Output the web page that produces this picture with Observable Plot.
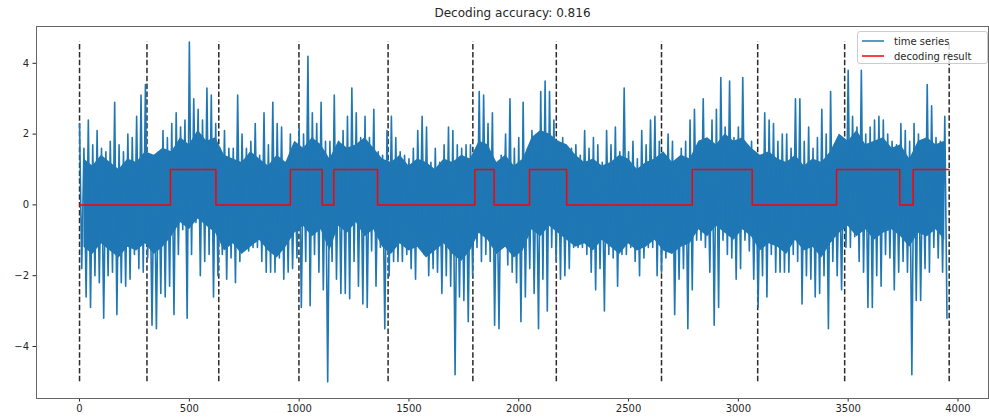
<!DOCTYPE html>
<html>
<head>
<meta charset="utf-8">
<script src="https://cdn.jsdelivr.net/npm/d3@7"></script>
<script src="https://cdn.jsdelivr.net/npm/@observablehq/plot@0.6"></script>
<style>
  body { margin: 0; background: #fff; }
  #wrap { position: relative; width: 989px; height: 420px; font-family: "DejaVu Sans", sans-serif; }
  #legend { position: absolute; left: 857px; top: 31px; width: 129px; height: 31px;
            border: 1px solid #cccccc; border-radius: 3px; background: rgba(255,255,255,0.8);
            font-size: 10px; color: #262626; z-index: 2; }
  .row { position: absolute; left: 3px; height: 14px; display: flex; align-items: center; white-space: nowrap; }
  .row svg { margin-right: 9px; }
</style>
</head>
<body>
<div id="wrap"></div>
<script>
// ---- data ----
const titleText = "Decoding accuracy: 0.816";
const seriesLabels = ["time series", "decoding result"];
const sampleStep = 10; // one value every 10 samples: alternating local high / local low

// local highs per 20-sample block
const highs = [
  2.3,1.6,2.4,1.7,2.1,1.6,1.5,1.8,2.9,1.7, 1.5,2.0,1.9,2.5,3.1,3.4,1.2,1.4,1.5,2.1,
  1.9,2.3,2.6,2.2,2.4,4.6,3.0,2.7,2.4,3.3, 3.1,2.3,1.6,
  2.1,1.6,1.6,3.1,2.0,1.6,1.8,2.3,1.4,2.6, 1.7,2.9,2.3,2.2,1.2,2.0,1.3,2.2,2.0,4.2,
  2.6,2.3,2.9,1.8,1.8,3.1,1.8,2.1,2.5,3.3, 2.6,1.9,2.5,
  1.9,2.7,1.5,1.4,2.1,2.5,1.9,1.5,1.4,1.3, 1.6,2.1,2.5,2.2,1.2,1.6,1.2,1.7,2.2,2.1,
  1.7,1.6,1.7,1.7,1.4,3.2,3.1,2.3,2.6,1.1, 1.4,2.0,3.0,
  1.6,1.9,2.9,1.6,2.1,1.5,3.2,3.5,3.2,2.4, 1.8,1.9,1.4,1.6,1.7,1.4,2.1,1.6,1.9,1.7,
  1.2,2.1,1.7,2.2,1.5,3.3,1.5,1.8,1.3,2.1, 1.7,2.4,2.5,
  1.8,1.2,2.0,1.8,1.2,1.6,1.8,2.4,2.7,1.6, 3.0,1.7,2.4,2.7,3.6,2.2,3.5,1.9,2.2,3.6,
  1.5,1.8,1.2,1.2,2.6,2.4,2.3,1.8,2.0,2.0, 1.6,3.0,3.0,
  1.8,2.2,1.6,1.9,2.7,2.0,3.2,1.7,1.4,1.6, 3.8,2.5,2.2,3.8,2.0,2.2,2.4,2.5,2.4,2.0,
  1.8,1.7,2.3,2.1,1.8,2.3,2.0,1.6,3.4,2.8, 1.9,1.8,2.5
];
// local lows per 20-sample block
const lows = [
  -1.8,-2.6,-2.9,-2.0,-2.2,-3.2,-2.0,-1.9,-3.1,-2.2, -2.3,-2.1,-1.4,-1.8,-1.9,-1.5,-3.4,-3.5,-2.5,-2.6,
  -2.3,-3.1,-1.4,-0.7,-3.2,-1.4,-0.5,-2.0,-1.6,-1.4, -2.6,-2.0,-1.4,
  -2.1,-1.5,-2.2,-1.6,-1.2,-1.3,-1.2,-1.2,-1.6,-1.9, -1.9,-1.9,-1.5,-2.1,-1.9,-1.8,-1.5,-2.9,-1.6,-2.85,
  -1.4,-1.9,-2.4,-5.0,-1.6,-2.1,-2.5,-2.5,-2.65,-1.6, -2.3,-2.8,-2.9,
  -1.3,-2.3,-1.2,-3.5,-2.0,-1.6,-1.6,-1.6,-1.4,-1.8, -2.1,-1.2,-1.4,-2.0,-1.8,-1.9,-2.5,-2.0,-2.3,-4.8,
  -2.6,-2.7,-3.3,-2.0,-1.2,-1.6,-1.4,-1.6,-3.4,-3.5, -1.0,-1.7,-1.9,
  -2.2,-3.3,-2.6,-1.8,-2.5,-3.5,-2.1,-3.0,-1.2,-1.6, -2.1,-2.0,-1.8,-1.2,-1.2,-1.2,-1.4,-1.9,-2.4,-1.8,
  -3.0,-1.4,-1.5,-2.3,-1.4,-1.4,-1.2,-1.6,-2.0,-1.5, -1.2,-1.2,-2.0,
  -1.9,-1.5,-1.2,-3.1,-2.1,-1.8,-3.5,-2.4,-1.0,-1.0, -1.2,-1.9,-3.4,-2.9,-1.0,-1.4,-1.5,-2.1,-1.8,-1.0,
  -1.3,-2.1,-2.9,-2.0,-2.6,-1.4,-1.9,-1.9,-1.9,-1.9, -1.4,-1.6,-2.8,
  -2.0,-2.1,-2.6,-2.5,-2.0,-3.5,-1.6,-2.0,-2.4,-1.2, -1.2,-0.9,-1.6,-1.9,-2.9,-2.9,-2.0,-2.3,-1.4,-1.5,
  -2.4,-1.9,-1.6,-1.9,-4.8,-2.7,-2.7,-1.8,-1.9,-1.2, -1.5,-1.9,-3.2
];

// edges of the solid inner part of the band, per 40-sample block
const coreBlock = 40;
const innerHigh = [
  1.3,1.1,1.4,1.2,1.0,1.3,1.2,1.5,1.4,1.6, 1.5,
  1.9,1.7,2.1,1.8,1.9,
  1.4,1.3,1.2,1.5,1.3,1.1,1.4,1.2,
  1.8,1.6,1.9,1.7,
  1.3,
  1.8,1.6,1.7,1.9,1.6,
  1.3,1.2,1.4,1.1,1.3,1.2,1.0,1.3,1.2,1.4,1.3,
  1.8,1.7,
  1.2,1.4,1.1,1.3,
  1.9,2.1,2.0,1.8,1.7,
  1.4,1.2,1.3,1.1,1.2,1.4,1.3,1.0,1.2,1.3,1.5,1.2,1.4,1.3,
  1.8,1.9,1.7,2.0,1.8,1.9,1.6,
  1.4,1.5,1.3,1.2,1.4,1.1,1.3,1.2,1.5,
  2.0,1.8,2.1,1.7,1.8,1.9,1.6,1.7,
  1.3,
  1.8,1.9,1.7,1.8
];
const innerLow = [
  -1.2,-1.4,-1.1,-1.3,-1.5,-1.2,-1.3,-1.1,-1.4,-1.2, -0.9,
  -0.5,-0.7,-0.4,-0.6,-0.8,
  -1.3,-1.1,-1.4,-1.2,-1.0,-1.3,-1.5,-1.2,
  -0.8,-0.6,-0.9,-0.7,
  -1.3,
  -0.6,-0.8,-0.5,-0.9,-0.7,
  -1.2,-1.4,-1.1,-1.3,-1.2,-1.5,-1.3,-1.1,-1.4,-1.6,-1.3,
  -0.8,-1.0,
  -1.4,-1.2,-1.5,-1.3,
  -0.7,-0.9,-0.6,-0.8,-1.0,
  -1.2,-1.1,-1.3,-1.0,-1.2,-1.4,-1.1,-1.3,-1.2,-1.0,-1.3,-1.4,-1.2,-1.1,
  -0.7,-0.9,-0.6,-0.8,-1.0,-0.7,-0.9,
  -1.3,-1.1,-1.2,-1.4,-1.0,-1.3,-1.2,-1.5,-1.1,
  -0.8,-0.6,-0.9,-0.7,-1.0,-0.8,-0.7,-0.9,
  -1.2,
  -0.8,-0.9,-0.7,-1.0
];

// decoded state: value holds from this sample until the next one
const stepStarts = [0, 414, 621, 960, 1105, 1158, 1357, 1800, 1888, 2049, 2218, 2790, 3063, 3447, 3735, 3796, 3959];
const stepStates = [0, 1, 0, 1, 0, 1, 0, 1, 0, 1, 0, 1, 0, 1, 0, 1, 1];

// true change points (dashed lines)
const changePoints = [0, 307, 634, 999, 1405, 1791, 2171, 2650, 3088, 3484, 3960];
const dashLow = -5.0, dashHigh = 4.6;

const xTicks = [0, 500, 1000, 1500, 2000, 2500, 3000, 3500, 4000];
const yTicks = [-4, -2, 0, 2, 4];

// ---- build tables ----
const series = [];
highs.forEach((h, i) => {
  series.push({x: (2 * i) * sampleStep, y: h});
  series.push({x: (2 * i + 1) * sampleStep, y: lows[i]});
});
const steps = stepStarts.map((x, i) => ({x, y: stepStates[i]}));
const core = innerHigh.map((h, j) => ({x: j * coreBlock + coreBlock / 2, lo: innerLow[j], hi: h}));

const chart = Plot.plot({
  width: 989,
  height: 420,
  marginLeft: 36,
  marginRight: 1,
  marginTop: 26,
  marginBottom: 22,
  style: {fontFamily: "DejaVu Sans, sans-serif", fontSize: "10px", color: "#262626", background: "#fff", overflow: "visible"},
  x: {domain: [-196, 4139], ticks: xTicks, tickSize: 3.5, tickPadding: 3, tickFormat: "d", label: null},
  y: {domain: [-5.47, 5.04], ticks: yTicks, tickSize: 3.5, tickPadding: 4, label: null},
  marks: [
    Plot.ruleX(changePoints, {x: d => d, y1: () => dashLow, y2: () => dashHigh, stroke: "#2b2b2b", strokeWidth: 1.5, strokeDasharray: "5.5,2.4"}),
    Plot.areaY(core, {x: "x", y1: "lo", y2: "hi", fill: "#1f77b4"}),
    Plot.line(series, {x: "x", y: "y", stroke: "#1f77b4", strokeWidth: 1.6}),
    Plot.line(steps, {x: "x", y: "y", curve: "step-after", stroke: "#ff0000", strokeWidth: 1.5}),
    Plot.frame({stroke: "#666"}),
    Plot.text([titleText], {frameAnchor: "top", lineAnchor: "top", dy: -18, fontSize: 12, fill: "#262626"})
  ]
});

const wrap = document.getElementById("wrap");
wrap.appendChild(chart);

const legend = document.createElement("div");
legend.id = "legend";
const colors = ["#1f77b4", "#ff0000"];
seriesLabels.forEach((lab, i) => {
  const row = document.createElement("div");
  row.className = "row";
  row.style.top = (2 + i * 15) + "px";
  row.innerHTML = `<svg width="24" height="14"><line x1="1" x2="23" y1="7" y2="7" stroke="${colors[i]}" stroke-width="1.5"/></svg><span>${lab}</span>`;
  legend.appendChild(row);
});
wrap.appendChild(legend);
</script>
</body>
</html>
